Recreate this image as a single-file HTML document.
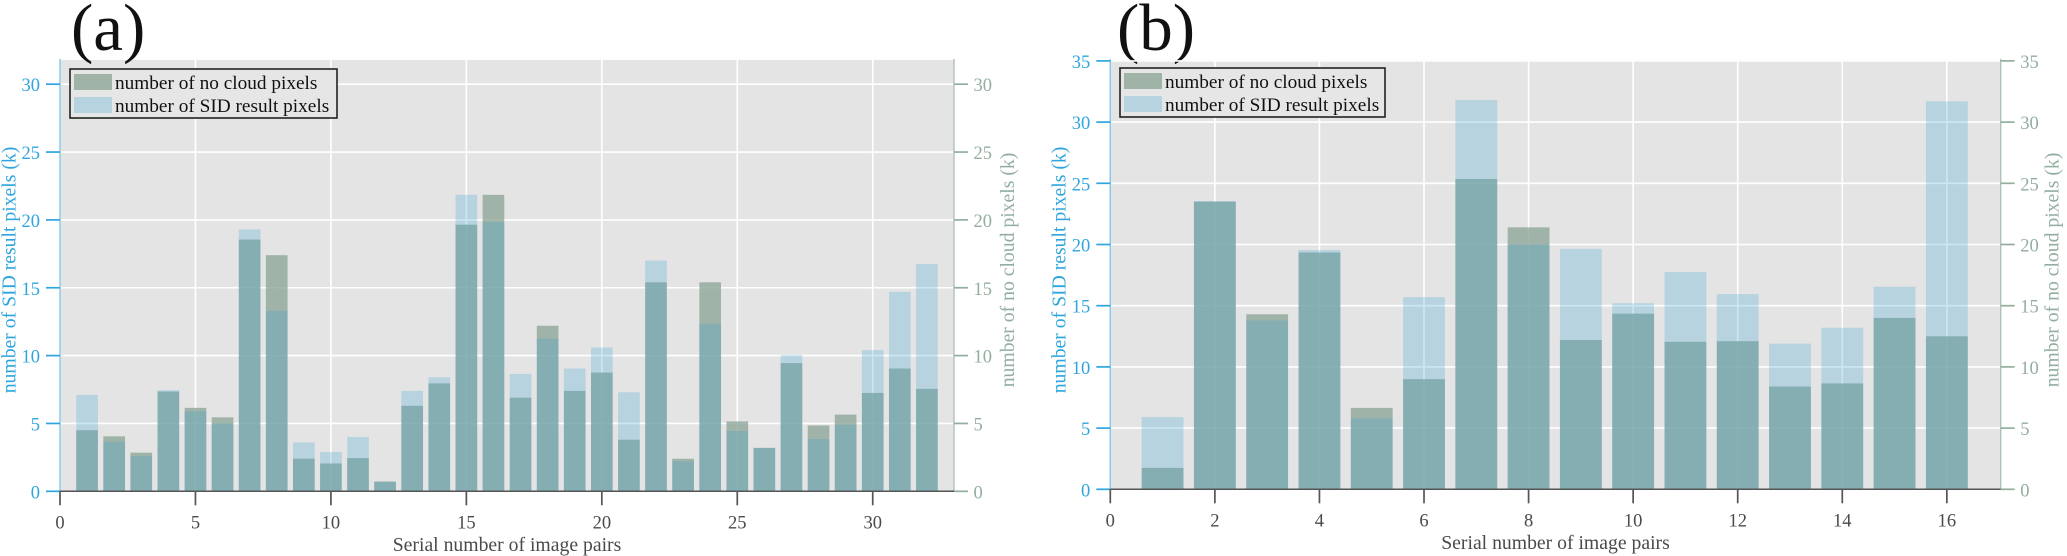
<!DOCTYPE html>
<html lang="en">
<head>
<meta charset="utf-8">
<title>SID result pixels and no cloud pixels per image pair</title>
<style>
html,body{margin:0;padding:0;background:#fff;}
body{width:2067px;height:556px;overflow:hidden;}
svg{display:block;}
text{font-family:"Liberation Serif",serif;}
</style>
</head>
<body>
<svg id="figure" xmlns="http://www.w3.org/2000/svg" width="2067" height="556" viewBox="0 0 2067 556"></svg>
<script>
const categoriesA = [1,2,3,4,5,6,7,8,9,10,11,12,13,14,15,16,17,18,19,20,21,22,23,24,25,26,27,28,29,30,31,32];
const sidPixelsA = [7.1,3.65,2.6,7.45,5.9,5.0,19.3,13.3,3.6,2.9,4.0,0.7,7.4,8.4,21.85,19.85,8.65,11.25,9.05,10.6,7.3,17.0,2.2,12.35,4.45,3.2,10.05,3.85,4.9,10.4,14.7,16.75];
const cloudPixelsA = [4.5,4.05,2.85,7.35,6.15,5.45,18.55,17.4,2.4,2.05,2.45,0.72,6.3,7.95,19.65,21.85,6.9,12.2,7.4,8.75,3.8,15.4,2.4,15.4,5.15,3.2,9.45,4.85,5.65,7.25,9.05,7.55];
const xTicksA = [0,5,10,15,20,25,30];
const yTicksA = [0,5,10,15,20,25,30];

const categoriesB = [1,2,3,4,5,6,7,8,9,10,11,12,13,14,15,16];
const sidPixelsB = [5.9,23.55,13.8,19.55,5.8,15.7,31.8,20.0,19.65,15.2,17.75,15.95,11.9,13.2,16.55,31.7];
const cloudPixelsB = [1.75,23.5,14.3,19.35,6.65,9.0,25.35,21.4,12.2,14.35,12.05,12.1,8.4,8.65,14.0,12.5];
const xTicksB = [0,2,4,6,8,10,12,14,16];
const yTicksB = [0,5,10,15,20,25,30,35];

const svgNS = 'http://www.w3.org/2000/svg';
const figure = document.getElementById('figure');
const BLUE = '#2fa5df', BLUE_AXIS = '#82c6e8', GREEN_TXT = '#93ae9f', GREEN_AXIS = '#adc4b7', GREY = '#555555';
const TICK_FONT = 18.5, TITLE_FONT = 19.7, LEGEND_FONT = 19.3;

function node(parent, tag, attrs, content) {
  const el = document.createElementNS(svgNS, tag);
  for (const k in attrs) el.setAttribute(k, attrs[k]);
  if (content !== undefined) el.textContent = content;
  parent.appendChild(el);
  return el;
}

function drawPanel(cfg) {
  const panel = node(figure, 'g', {});
  
  

  const xScale = v => cfg.left + (v / cfg.xMax) * (cfg.right - cfg.left);
  const yScale = v => cfg.bottom - v * cfg.pxPerUnit;

  const bg = node(panel, 'rect', {x: cfg.left, y: cfg.top, width: cfg.right - cfg.left, height: cfg.bottom - cfg.top, fill: '#e4e4e4'});
  
  

  const caption = node(panel, 'text', {x: cfg.capX, y: 50, 'font-size': 67, fill: '#111'}, cfg.caption);
  
  

  cfg.yTicks.forEach(t => {
    const g = node(panel, 'line', {x1: cfg.left, x2: cfg.right, y1: yScale(t), y2: yScale(t), stroke: '#fff', 'stroke-width': 1.6});
    
    
  });
  cfg.xTicks.forEach(t => {
    const g = node(panel, 'line', {x1: xScale(t), x2: xScale(t), y1: cfg.top, y2: cfg.bottom, stroke: '#fff', 'stroke-width': 1.6});
    
    
  });

  const barW = 0.8 * (xScale(1) - xScale(0));
  cfg.categories.forEach((c, i) => {
    const y = yScale(cfg.cloud[i]);
    const bar = node(panel, 'rect', {x: xScale(c) - barW / 2, y: y, width: barW, height: cfg.bottom - y, fill: 'rgb(143,166,152)', 'fill-opacity': 0.8});
    
    
  });
  cfg.categories.forEach((c, i) => {
    const y = yScale(cfg.sid[i]);
    const bar = node(panel, 'rect', {x: xScale(c) - barW / 2, y: y, width: barW, height: cfg.bottom - y, fill: 'rgb(52,160,212)', 'fill-opacity': 0.25});
    
    
  });

  const leftAxis = node(panel, 'line', {x1: cfg.left, x2: cfg.left, y1: cfg.top - 1, y2: cfg.bottom, stroke: BLUE_AXIS, 'stroke-width': 1.4});
  
  
  const rightAxis = node(panel, 'line', {x1: cfg.right, x2: cfg.right, y1: cfg.top - 1, y2: cfg.bottom, stroke: GREEN_AXIS, 'stroke-width': 1.4});
  
  
  const xAxis = node(panel, 'line', {x1: cfg.left, x2: cfg.right, y1: cfg.bottom, y2: cfg.bottom, stroke: GREY, 'stroke-width': 1.5});
  
  

  cfg.yTicks.forEach(t => {
    const y = yScale(t);
    const lt = node(panel, 'line', {x1: cfg.left - 14, x2: cfg.left, y1: y, y2: y, stroke: BLUE, 'stroke-width': 1.7});
    
    
    const ll = node(panel, 'text', {x: cfg.left - 20, y: y + 7, 'font-size': TICK_FONT, 'text-anchor': 'end', fill: BLUE}, t);
    
    
    const rt = node(panel, 'line', {x1: cfg.right, x2: cfg.right + 14, y1: y, y2: y, stroke: GREEN_TXT, 'stroke-width': 1.7});
    
    
    const rl = node(panel, 'text', {x: cfg.right + 19.5, y: y + 7, 'font-size': TICK_FONT, fill: GREEN_TXT}, t);
    
    
  });

  cfg.xTicks.forEach(t => {
    const x = xScale(t);
    const tk = node(panel, 'line', {x1: x, x2: x, y1: cfg.bottom, y2: cfg.bottom + 14, stroke: GREY, 'stroke-width': 1.7});
    
    
    const lb = node(panel, 'text', {x: x, y: cfg.bottom + 37, 'font-size': TICK_FONT, 'text-anchor': 'middle', fill: '#4a4a4a'}, t);
    
    
  });

  const xTitle = node(panel, 'text', {x: (cfg.left + cfg.right) / 2, y: cfg.bottom + 59.5, 'font-size': TITLE_FONT, 'text-anchor': 'middle', fill: '#4a4a4a'}, 'Serial number of image pairs');
  
  

  const lTitle = node(panel, 'text', {transform: 'translate(' + cfg.lTitleX + ',270) rotate(-90)', 'font-size': TITLE_FONT, 'text-anchor': 'middle', fill: BLUE}, 'number of SID result pixels (k)');
  
  
  const rTitle = node(panel, 'text', {transform: 'translate(' + cfg.rTitleX + ',270) rotate(-90)', 'font-size': TITLE_FONT, 'text-anchor': 'middle', fill: GREEN_TXT}, 'number of no cloud pixels (k)');
  
  

  const legend = node(panel, 'g', {});
  
  
  const lx = cfg.legX, ly = cfg.legY;
  const box = node(legend, 'rect', {x: lx, y: ly, width: cfg.legW, height: 49, fill: '#e6e6e6', stroke: '#222', 'stroke-width': 1.6});
  
  
  const s1 = node(legend, 'rect', {x: lx + 4, y: ly + 5, width: 38, height: 16, fill: '#9fb3a7'});
  
  
  const t1 = node(legend, 'text', {x: lx + 45, y: ly + 20, 'font-size': LEGEND_FONT, fill: '#111'}, 'number of no cloud pixels');
  
  
  const s2 = node(legend, 'rect', {x: lx + 4, y: ly + 28, width: 38, height: 16, fill: '#b8d3e0'});
  
  
  const t2 = node(legend, 'text', {x: lx + 45, y: ly + 43, 'font-size': LEGEND_FONT, fill: '#111'}, 'number of SID result pixels');
  
  
}

drawPanel({id: 'a', caption: '(a)', capX: 71, left: 60, right: 954, top: 60, bottom: 491.3, xMax: 33, pxPerUnit: 13.57,
  categories: categoriesA, sid: sidPixelsA, cloud: cloudPixelsA, xTicks: xTicksA, yTicks: yTicksA,
  legX: 70, legY: 69, legW: 267, lTitleX: 15.5, rTitleX: 1014});
drawPanel({id: 'b', caption: '(b)', capX: 1117, left: 1110.3, right: 2000.7, top: 60, bottom: 489.3, xMax: 17.03, pxPerUnit: 12.24,
  categories: categoriesB, sid: sidPixelsB, cloud: cloudPixelsB, xTicks: xTicksB, yTicks: yTicksB,
  legX: 1120, legY: 68, legW: 265, lTitleX: 1065.5, rTitleX: 2058.7});
</script>
</body>
</html>
